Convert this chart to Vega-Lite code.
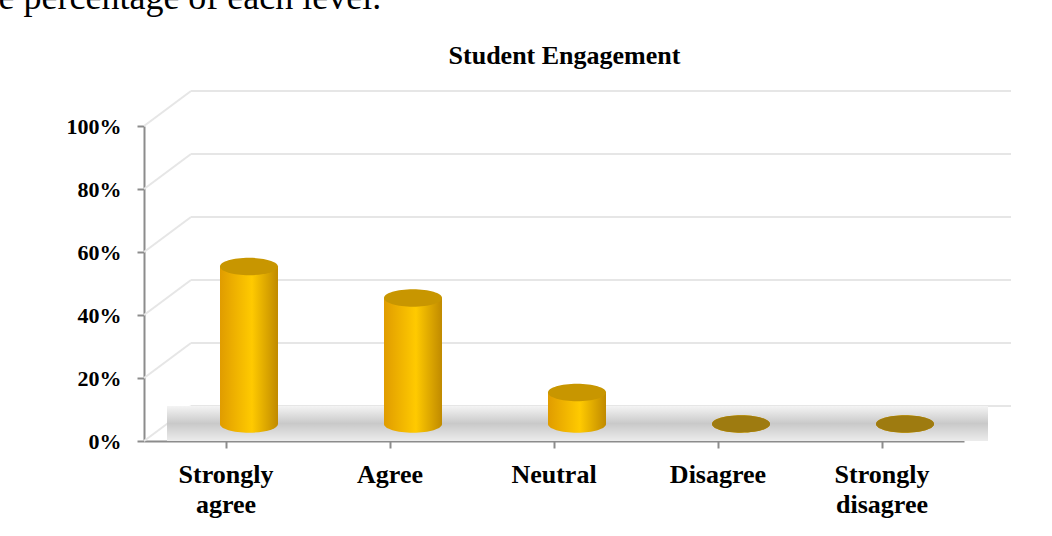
{
  "$schema": "https://vega.github.io/schema/vega-lite/v6.json",
  "width": 820,
  "height": 315,
  "autosize": "none",
  "padding": {"left": 144, "top": 126, "right": 88, "bottom": 95},
  "background": "white",
  "config": {"view": {"stroke": null}, "font": "Liberation Serif"},
  "datasets": {
    "responses": [
      {"level": "Strongly agree", "pct": 0.5},
      {"level": "Agree", "pct": 0.4},
      {"level": "Neutral", "pct": 0.1},
      {"level": "Disagree", "pct": 0},
      {"level": "Strongly disagree", "pct": 0}
    ],
    "grid": [{"tick": 0}, {"tick": 0.2}, {"tick": 0.4}, {"tick": 0.6}, {"tick": 0.8}, {"tick": 1.0}]
  },
  "layer": [
    {
      "data": {"name": "responses"},
      "mark": {"type": "bar", "size": 58, "xOffset": 23, "yOffset": -17, "y2Offset": -17,
        "fill": {"gradient": "linear", "x1": 0, "y1": 0, "x2": 1, "y2": 0, "stops": [
          {"offset": 0, "color": "#E09C00"},
          {"offset": 0.55, "color": "#FFCA00"},
          {"offset": 1, "color": "#C08A00"}]}},
      "encoding": {
        "x": {"field": "level", "type": "nominal", "sort": null,
          "scale": {"paddingInner": 0, "paddingOuter": 0},
          "axis": {"labelAngle": 0, "labelExpr": "split(datum.label, ' ')", "labelFont": "Liberation Serif", "labelFontSize": 26, "labelFontWeight": "bold", "labelColor": "#000000", "labelLineHeight": 30, "labelPadding": 13, "domainColor": "#8c8c8c", "domainWidth": 2, "tickColor": "#8c8c8c", "tickWidth": 2, "tickSize": 7,
            "title": "Student Engagement", "titleAngle": 0, "titleAlign": "center", "titleBaseline": "alphabetic", "titleX": 420, "titleY": -378, "titleFont": "Liberation Serif", "titleFontSize": 26, "titleFontWeight": "bold", "titleColor": "#000000"}},
        "y": {"field": "pct", "type": "quantitative", "scale": {"domain": [0, 1], "nice": false},
          "axis": {"values": [0, 0.2, 0.4, 0.6, 0.8, 1], "format": ".0%", "grid": false, "labelFont": "Liberation Serif", "labelFontSize": 22, "labelFontWeight": "bold", "labelColor": "#000000", "labelPadding": 16, "domainColor": "#8c8c8c", "domainWidth": 2, "tickColor": "#8c8c8c", "tickWidth": 2, "tickSize": 7,
            "title": "e percentage of each level.", "titleAngle": 0, "titleAlign": "left", "titleBaseline": "alphabetic", "titleX": -146, "titleY": -118, "titleFont": "Liberation Serif", "titleFontSize": 36, "titleFontWeight": "normal", "titleColor": "#000000"}}
      }
    },
    {
      "data": {"name": "grid"},
      "mark": {"type": "rule", "color": "#e6e6e6", "strokeWidth": 2, "xOffset": 47, "x2Offset": 47, "yOffset": -35, "y2Offset": -35},
      "encoding": {
        "x": {"datum": "Strongly agree", "type": "nominal", "bandPosition": 0},
        "x2": {"datum": "Strongly disagree", "bandPosition": 1},
        "y": {"field": "tick", "type": "quantitative"}
      }
    },
    {
      "data": {"name": "grid"},
      "mark": {"type": "rule", "color": "#e6e6e6", "strokeWidth": 2, "x2Offset": 47, "y2Offset": -35},
      "encoding": {
        "x": {"datum": "Strongly agree", "type": "nominal", "bandPosition": 0},
        "x2": {"datum": "Strongly agree", "bandPosition": 0},
        "y": {"field": "tick", "type": "quantitative"},
        "y2": {"field": "tick"}
      }
    },
    {
      "data": {"values": [{"floor": "floor"}]},
      "mark": {"type": "rect", "xOffset": 23, "x2Offset": 24,
        "fill": {"gradient": "linear", "x1": 0, "y1": 0, "x2": 0, "y2": 1, "stops": [
          {"offset": 0, "color": "#f4f4f4"},
          {"offset": 0.5, "color": "#c9c9c9"},
          {"offset": 1, "color": "#ececec"}]}},
      "encoding": {
        "x": {"datum": "Strongly agree", "type": "nominal", "bandPosition": 0},
        "x2": {"datum": "Strongly disagree", "bandPosition": 1},
        "y": {"datum": 0, "type": "quantitative"},
        "y2": {"datum": 0.111}
      }
    },
    {
      "data": {"name": "responses"},
      "mark": {"type": "point", "filled": true, "opacity": 1, "strokeWidth": 0,
        "shape": "M-1,0A1,0.3,0,1,1,1,0A1,0.3,0,1,1,-1,0Z", "size": 3364, "xOffset": 23, "yOffset": -17,
        "fill": {"gradient": "linear", "x1": 0, "y1": 0, "x2": 1, "y2": 0, "stops": [
          {"offset": 0, "color": "#E09C00"},
          {"offset": 0.55, "color": "#FFCA00"},
          {"offset": 1, "color": "#C08A00"}]}},
      "encoding": {
        "x": {"field": "level", "type": "nominal", "sort": null},
        "y": {"datum": 0, "type": "quantitative"}
      }
    },
    {
      "data": {"name": "responses"},
      "mark": {"type": "bar", "size": 58, "xOffset": 23, "yOffset": -17, "y2Offset": -17,
        "fill": {"gradient": "linear", "x1": 0, "y1": 0, "x2": 1, "y2": 0, "stops": [
          {"offset": 0, "color": "#E09C00"},
          {"offset": 0.55, "color": "#FFCA00"},
          {"offset": 1, "color": "#C08A00"}]}},
      "encoding": {
        "x": {"field": "level", "type": "nominal", "sort": null},
        "y": {"field": "pct", "type": "quantitative"}
      }
    },
    {
      "data": {"name": "responses"},
      "mark": {"type": "point", "filled": true, "opacity": 1, "strokeWidth": 0,
        "shape": "M-1,0A1,0.3,0,1,1,1,0A1,0.3,0,1,1,-1,0Z", "size": 3364, "xOffset": 23, "yOffset": -17},
      "encoding": {
        "x": {"field": "level", "type": "nominal", "sort": null},
        "y": {"field": "pct", "type": "quantitative"},
        "color": {"condition": {"test": "datum.pct == 0", "value": "#9E7B10"}, "value": "#C89600"}
      }
    }
  ]
}
